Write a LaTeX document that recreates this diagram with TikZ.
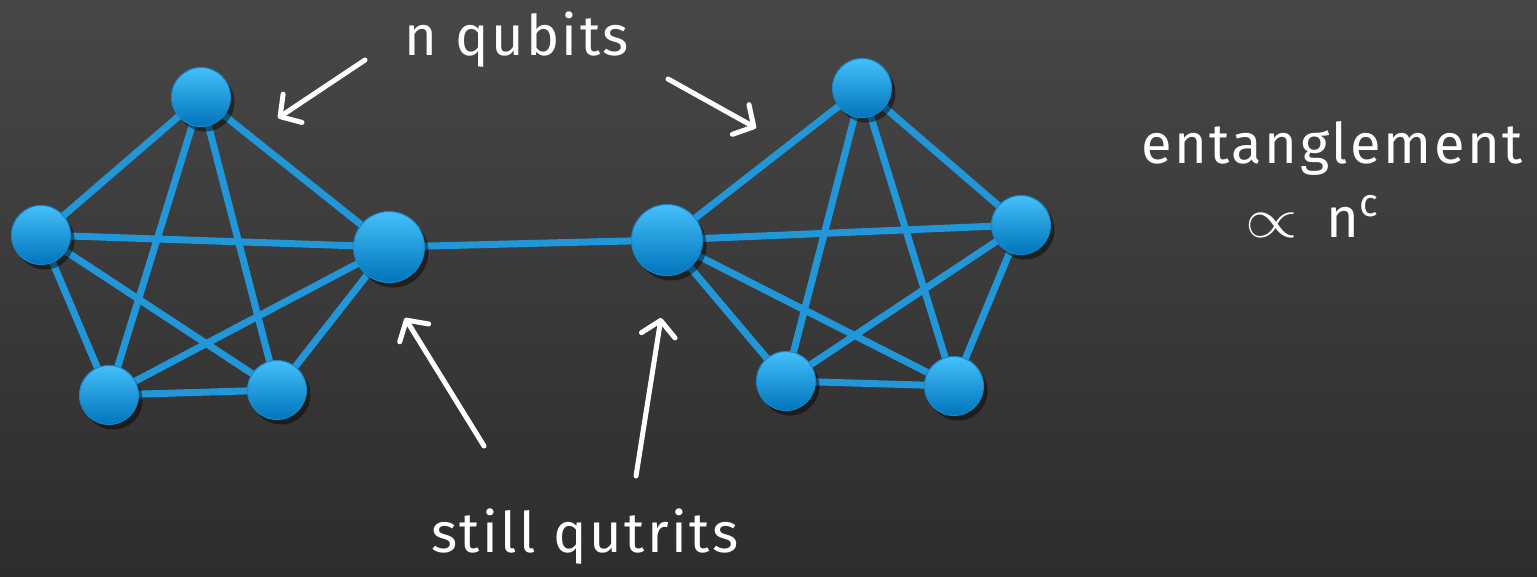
\RequirePackage{fix-cm}
\documentclass[tikz,border=0pt]{standalone}
\usepackage{fontspec}
\usepackage{graphicx}
\setmainfont[LetterSpace=4.5]{Fira Sans}
\usetikzlibrary{arrows.meta,shadows}
\definecolor{edgeblue}{HTML}{2196D8}
\definecolor{balltop}{HTML}{45C0FA}
\definecolor{ballbot}{HTML}{0074BC}
\definecolor{ballrim}{HTML}{1A86C8}
\definecolor{bgtop}{HTML}{474747}
\definecolor{bgbot}{HTML}{2D2D2D}
\pgfdeclarelayer{backdrop}
\pgfdeclarelayer{edges}
\pgfsetlayers{backdrop,edges,main}
\begin{document}
\begin{tikzpicture}[x=1pt,y=-1pt,
  ball/.style={circle, draw=ballrim, line width=1pt, top color=balltop, bottom color=ballbot,
    minimum size=#1, inner sep=0pt,
    drop shadow={shadow xshift=4pt, shadow yshift=-5pt, opacity=0.45, fill=black}},
  ball/.default=59pt,
  edge/.style={draw=edgeblue, line width=7pt},
  pointer/.style={draw=white, line width=5pt, line cap=round,
    -{Straight Barb[length=15pt,width=34pt,round]}},
  label/.style={text=white, font=\fontsize{56}{66}\selectfont, anchor=base, inner sep=0pt}]
\begin{pgfonlayer}{backdrop}
\shade[top color=bgtop, bottom color=bgbot] (0,0) rectangle (1537,576);
\end{pgfonlayer}
\useasboundingbox (0,0) rectangle (1537,576);
% left cluster
\node[ball] (A) at (201,97) {};
\node[ball] (B) at (41,235) {};
\node[ball=71pt] (C) at (389,247) {};
\node[ball] (D) at (109,395) {};
\node[ball] (E) at (277,390) {};
% right cluster
\node[ball] (F) at (862,88) {};
\node[ball=71pt] (G) at (667,240) {};
\node[ball] (H) at (1021,225) {};
\node[ball] (I) at (786,381) {};
\node[ball] (J) at (954,386) {};
\begin{pgfonlayer}{edges}
\foreach \u/\v in {A/B,A/C,A/D,A/E,B/C,B/D,B/E,C/D,C/E,D/E,
                   F/G,F/H,F/I,F/J,G/H,G/I,G/J,H/I,H/J,I/J,C/G}
  \draw[edge] (\u.center) -- (\v.center);
\end{pgfonlayer}
% labels
\node[label] (t1) at (517,55) {n qubits};
\node[label] (t2) at (585,552) {still qutrits};
\node[label] (t3) at (1332,163) {entanglement};
\node[label, anchor=base west] (t4) at (1245,237)
  {\makebox[81pt][l]{\scalebox{1.2}[1.0]{$\propto$}}n\textsuperscript{c}};
% pointers
\coordinate (p1s) at (365,60);  \coordinate (p1e) at (278,118);
\coordinate (p2s) at (668,79);  \coordinate (p2e) at (756,128);
\coordinate (p3s) at (484,446); \coordinate (p3e) at (405,318);
\coordinate (p4s) at (636,476); \coordinate (p4e) at (661,318);
\draw[pointer] (p1s) -- (p1e);
\draw[pointer] (p2s) -- (p2e);
\draw[pointer] (p3s) -- (p3e);
\draw[pointer] (p4s) -- (p4e);
\end{tikzpicture}
\end{document}
